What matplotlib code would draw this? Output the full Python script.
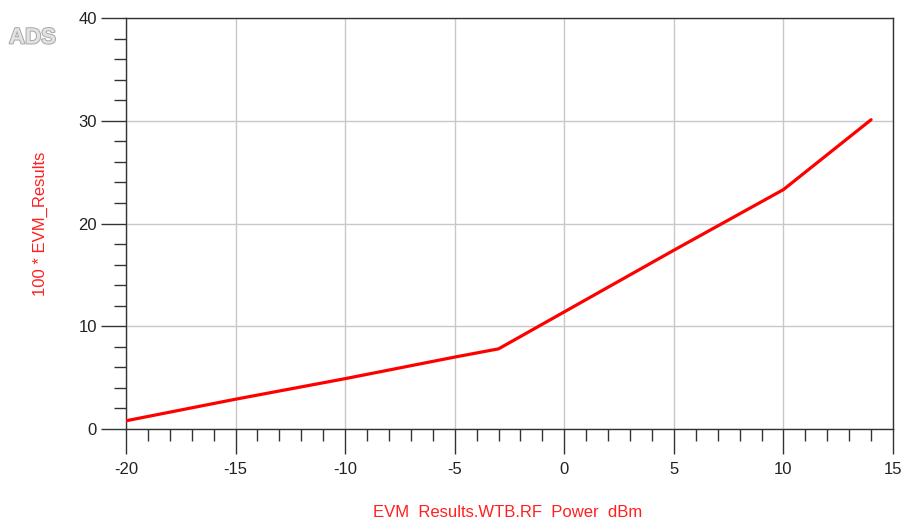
import matplotlib
matplotlib.use("Agg")
import matplotlib.pyplot as plt
import matplotlib.patheffects as pe
from matplotlib.ticker import MultipleLocator

# RF input power sweep (dBm) and measured EVM (%)
rf_power_dbm = [-20, -15, -10, -5, -3, 0, 5, 10, 12, 14]
evm_percent = [0.8, 2.9, 4.9, 7.0, 7.8, 11.4, 17.4, 23.3, 26.7, 30.1]

x_ticks = [-20, -15, -10, -5, 0, 5, 10, 15]
y_ticks = [0, 10, 20, 30, 40]

plt.rcParams['font.family'] = ['Liberation Sans', 'DejaVu Sans']

fig = plt.figure(figsize=(9.01, 5.22), dpi=100)
ax = fig.add_axes([126 / 901, 1 - 429 / 522, (893 - 126) / 901, (429 - 18) / 522])

ax.plot(rf_power_dbm, evm_percent, color='#ff0000', lw=2.3, solid_capstyle='round', zorder=3)

ax.set_xlim(-20, 15)
ax.set_ylim(0, 40)
ax.set_xticks(x_ticks)
ax.set_yticks(y_ticks)
ax.set_xticklabels([str(v) for v in x_ticks])
ax.set_yticklabels([str(v) for v in y_ticks])
ax.xaxis.set_minor_locator(MultipleLocator(1))
ax.yaxis.set_minor_locator(MultipleLocator(2))

ax.grid(True, which='major', color='#c8c8c8', lw=1.0, zorder=0)
for s in ax.spines.values():
    s.set_color('#333333')
    s.set_linewidth(1.0)

ax.tick_params(which='major', direction='out', length=18, width=1.0, color='#333333',
               labelsize=12, labelcolor='#222222')
ax.tick_params(axis='y', which='major', pad=3)
ax.tick_params(axis='x', which='major', pad=6)
ax.tick_params(which='minor', direction='out', length=8.6, width=1.0, color='#333333')

ax.set_ylabel('100 * EVM_Results', color='#ff2020', fontsize=12, labelpad=22)
fig.text(508 / 901, 2 / 522, 'EVM  Results.WTB.RF  Power  dBm', color='#ff2020', fontsize=12,
         ha='center', va='bottom')

fig.text(9 / 901, 1 - 38 / 522, 'ADS', fontsize=16, fontweight='bold', color='#e2e2e2',
         va='center', ha='left',
         path_effects=[pe.withStroke(linewidth=1.4, foreground='#a8a8a8')])

fig.savefig('out.png', dpi=100)
